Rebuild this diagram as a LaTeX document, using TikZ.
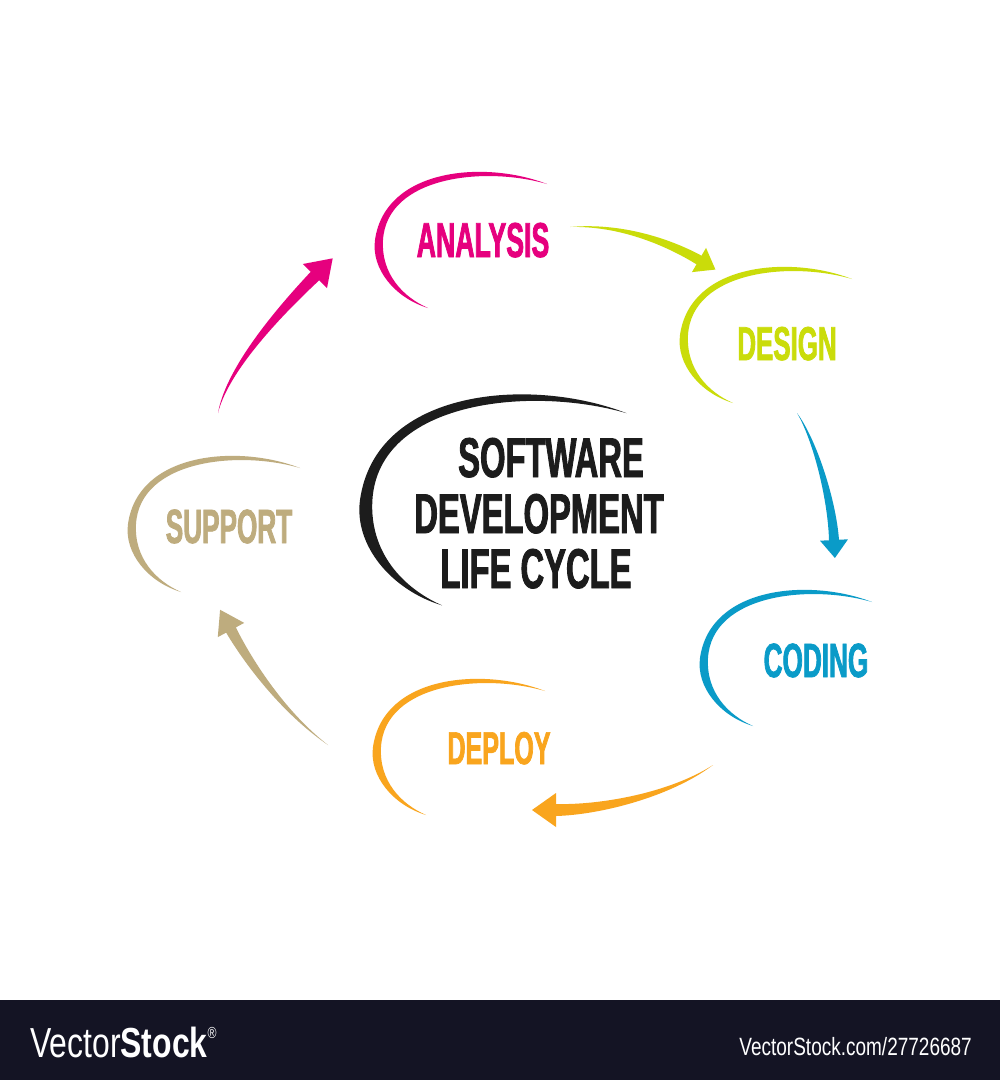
\documentclass[tikz,border=0pt]{standalone}
\usepackage{fontspec}
\usetikzlibrary{calc}
\newfontfamily\lblfont[FakeStretch=0.545,FakeBold=1.5]{Liberation Sans}
\newfontfamily\ttlfont[FakeStretch=0.585,FakeBold=1.5]{Liberation Sans}
\newfontfamily\bnfont[FakeStretch=0.76]{Liberation Sans}
\definecolor{cpink}{RGB}{230,0,126}
\definecolor{clime}{RGB}{202,220,10}
\definecolor{cblue}{RGB}{10,155,200}
\definecolor{corange}{RGB}{249,165,30}
\definecolor{ctan}{RGB}{190,172,126}
\definecolor{cdark}{RGB}{28,28,28}
\definecolor{cbanner}{RGB}{20,20,36}
% tapered arrow: color, P0(tail), P1, P2, P3(head base), head length, head half width, shaft half width
\newcommand{\taperarrow}[8]{%
  \pgfmathsetlengthmacro\tpW{#8}%
  \pgfmathsetlengthmacro\tpWb{0.8*#8}%
  \pgfmathsetlengthmacro\tpWa{0.35*#8}%
  \fill[#1] (#2) .. controls ($(#3)!\tpWa!90:(#4)$) and ($(#4)!\tpWb!90:(#5)$) ..
    ($(#5)!\tpW!-90:(#4)$) -- ($(#5)!#7!-90:(#4)$) -- ($(#5)!#6!180:(#4)$) --
    ($(#5)!#7!90:(#4)$) -- ($(#5)!\tpW!90:(#4)$) .. controls ($(#4)!\tpWb!-90:(#5)$) and ($(#3)!\tpWa!-90:(#4)$) .. (#2) -- cycle;}
\tikzset{
  swoosh/.pic={\fill (172,-56) .. controls (110,-80) and (10,-72) .. (0,0)
     .. controls (-4,29) and (20,58) .. (53,68)
     .. controls (28,57) and (6,34) .. (8,0)
     .. controls (12,-64) and (110,-74) .. (172,-56) -- cycle;},
  lbl/.style={inner sep=0pt, anchor=base},
  ttl/.style={inner sep=0pt, anchor=base, text=cdark, font={\ttlfont\bfseries\fontsize{56pt}{56pt}\selectfont}}
}
\begin{document}
\begin{tikzpicture}[x=1pt,y=-1pt]
\useasboundingbox (0,0) rectangle (1000,1080);
\fill[white] (0,0) rectangle (1000,1080);
\fill[cbanner] (0,1000) rectangle (1000,1080);

% swooshes
\pic[color=cpink] at (375,240) {swoosh};
\pic[color=clime] at (680,335) {swoosh};
\pic[color=cblue] at (700,658) {swoosh};
\pic[color=corange] at (373,747) {swoosh};
\pic[color=ctan] at (128,524) {swoosh};
\pic[color=cdark, scale=1.55] at (360,500) {swoosh};

% labels
\node[lbl, text=cpink, font={\lblfont\bfseries\fontsize{49pt}{49pt}\selectfont}] (analysis) at (483,257) {ANALYSIS};
\node[lbl, text=clime, font={\lblfont\bfseries\fontsize{47.5pt}{47.5pt}\selectfont}] (design) at (787,360) {DESIGN};
\node[lbl, text=cblue, font={\lblfont\bfseries\fontsize{48pt}{48pt}\selectfont}] (coding) at (816,677) {CODING};
\node[lbl, text=corange, font={\lblfont\bfseries\fontsize{46pt}{46pt}\selectfont}] (deploy) at (499,764) {DEPLOY};
\node[lbl, text=ctan, font={\lblfont\bfseries\fontsize{48pt}{48pt}\selectfont}] (support) at (229,543) {SUPPORT};

\node[ttl] (title1) at (551,477) {SOFTWARE};
\node[ttl] (title2) at (539,533) {DEVELOPMENT};
\node[ttl] (title3) at (536,588) {LIFE CYCLE};

% arrow coordinates
\coordinate (pA0) at (218,413); \coordinate (pA1) at (228,365); \coordinate (pA2) at (290,301); \coordinate (pA3) at (315,276);
\coordinate (lA0) at (570,227); \coordinate (lA1) at (620,224); \coordinate (lA2) at (668,242); \coordinate (lA3) at (699,260);
\coordinate (bA0) at (797,413); \coordinate (bA1) at (815,440); \coordinate (bA2) at (832,500); \coordinate (bA3) at (834,540);
\coordinate (oA0) at (713,765); \coordinate (oA1) at (670,795); \coordinate (oA2) at (600,810); \coordinate (oA3) at (556,810);
\coordinate (tA0) at (328,745); \coordinate (tA1) at (280,710); \coordinate (tA2) at (245,656); \coordinate (tA3) at (231,630);

\taperarrow{cpink}{pA0}{pA1}{pA2}{pA3}{25pt}{17pt}{6pt}
\taperarrow{clime}{lA0}{lA1}{lA2}{lA3}{19pt}{14pt}{5pt}
\taperarrow{cblue}{bA0}{bA1}{bA2}{bA3}{18pt}{14pt}{5pt}
\taperarrow{corange}{oA0}{oA1}{oA2}{oA3}{24pt}{17pt}{6pt}
\taperarrow{ctan}{tA0}{tA1}{tA2}{tA3}{23pt}{15pt}{5.5pt}

% banner texts
\node[inner sep=0pt, anchor=base west, text=white, font={\bnfont\fontsize{42pt}{42pt}\selectfont}] (brand) at (30,1057) {Vector\textbf{Stock}\raisebox{19pt}{\fontsize{16pt}{16pt}\selectfont ®}};
\node[inner sep=0pt, anchor=base east, text=white, font={\bnfont\fontsize{25pt}{25pt}\selectfont}] (url) at (972,1055) {VectorStock.com/27726687};
\end{tikzpicture}
\end{document}
